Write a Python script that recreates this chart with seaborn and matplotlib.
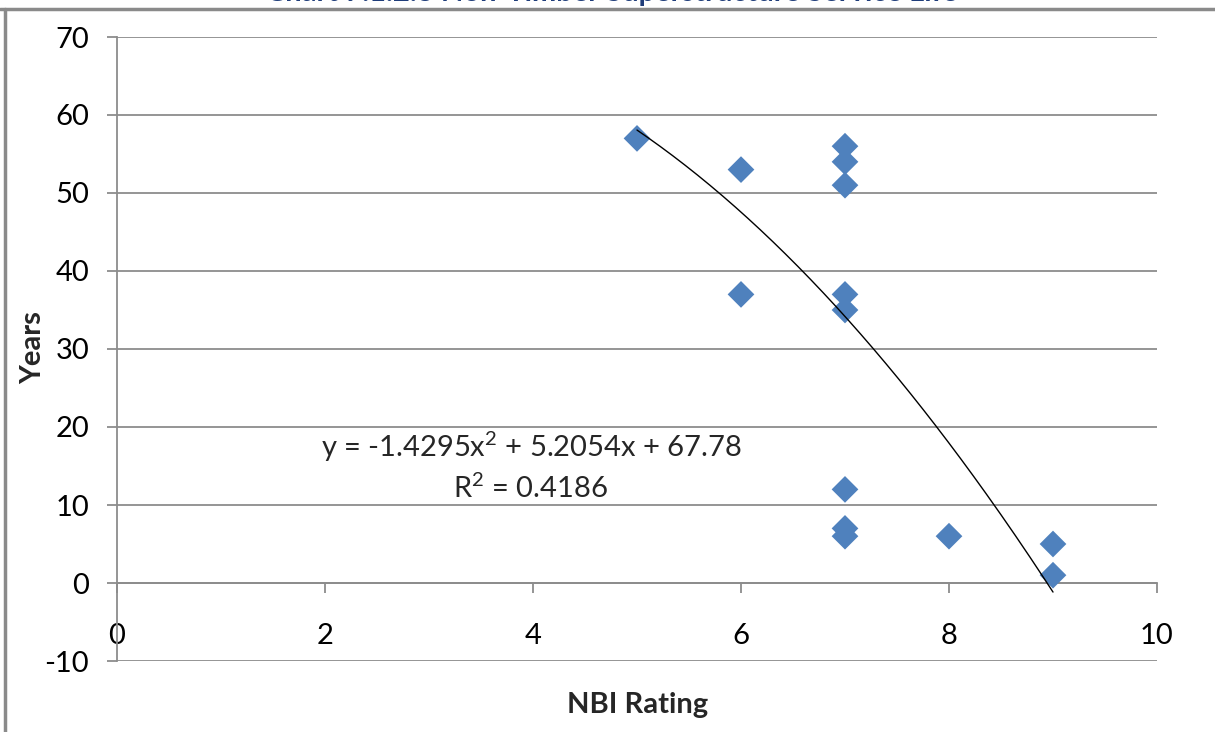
import numpy as np
import pandas as pd
import matplotlib
matplotlib.use("Agg")
import matplotlib.pyplot as plt
from matplotlib.lines import Line2D
import seaborn as sns

# ---- data ----
nbi_rating = [5, 6, 6, 7, 7, 7, 7, 7, 7, 7, 7, 8, 9, 9]
years = [57, 53, 37, 56, 54, 51, 37, 35, 12, 7, 6, 6, 5, 1]
trend_coef = [-1.4295, 5.2054, 67.78]   # quadratic trendline (a, b, c)
trend_label = "y = -1.4295x$^{2}$ + 5.2054x + 67.78"
r2_label = "R$^{2}$ = 0.4186"
title = "Chart 7.1.2.3 Non-Timber Superstructure Service Life"
x_ticks = [0, 2, 4, 6, 8, 10]
y_ticks = [-10, 0, 10, 20, 30, 40, 50, 60, 70]

df = pd.DataFrame({"NBI Rating": nbi_rating, "Years": years})

sns.set_theme(style="white")
plt.rcParams["font.family"] = ["Lato", "DejaVu Sans"]
plt.rcParams["axes.unicode_minus"] = False
plt.rcParams["mathtext.fontset"] = "custom"
plt.rcParams["mathtext.rm"] = "Lato"
plt.rcParams["mathtext.default"] = "regular"

W, H = 1215, 732
FS = 21
fig = plt.figure(figsize=(W / 100, H / 100), dpi=100)
ax = fig.add_axes([117 / W, 1 - 661 / H, (1157 - 117) / W, (661 - 37) / H])

grid_c = "#8c8c8c"
for yv in y_ticks:
    ax.axhline(yv, color=grid_c, lw=1.3, zorder=0)

sns.scatterplot(data=df, x="NBI Rating", y="Years", marker="D", s=185,
                color="#4F81BD", edgecolor="none", linewidth=0, ax=ax, zorder=3)

xs = np.linspace(min(nbi_rating), max(nbi_rating), 200)
ax.plot(xs, np.polyval(trend_coef, xs), color="black", lw=1.0, zorder=4)

ax.set_xlim(0, 10)
ax.set_ylim(-10, 70)
ax.set_xticks(x_ticks)
ax.set_yticks(y_ticks)
ax.set_xlabel("")
ax.set_ylabel("")

for s in ["top", "right"]:
    ax.spines[s].set_visible(False)
ax.spines["bottom"].set_position(("data", 0))
ax.spines["bottom"].set_color(grid_c)
ax.spines["bottom"].set_linewidth(1.3)
ax.spines["left"].set_color(grid_c)
ax.spines["left"].set_linewidth(1.3)

ax.tick_params(axis="x", direction="out", length=7, width=1.3, color=grid_c,
               pad=22, labelsize=FS, labelcolor="black", bottom=True)
ax.tick_params(axis="y", direction="out", length=7, width=1.3, color=grid_c,
               pad=13, labelsize=FS, labelcolor="black", left=True)

ax.text(3.98, 17.4, trend_label, ha="center", va="center", fontsize=FS)
ax.text(3.98, 12.1, r2_label, ha="center", va="center", fontsize=FS)

fig.text(638 / W, 1 - 705 / H, "NBI Rating", ha="center", va="center",
         fontsize=FS, fontweight="bold")
fig.text(33 / W, 1 - 348 / H, "Years", ha="center", va="center",
         fontsize=FS, fontweight="bold", rotation=90)

# chart frame and cropped title
fig.add_artist(Line2D([0, 1], [1 - 9 / H, 1 - 9 / H], color="#8a8a8a", lw=2.5,
                      transform=fig.transFigure))
fig.add_artist(Line2D([5 / W, 5 / W], [0, 1 - 9 / H], color="#8a8a8a", lw=2.5,
                      transform=fig.transFigure))
fig.text(612 / W, 1 - 1 / H, title, ha="center", va="baseline", fontsize=FS,
         fontweight="bold", color="#1F3D7A")

fig.savefig("out.png", dpi=100, facecolor="white")
